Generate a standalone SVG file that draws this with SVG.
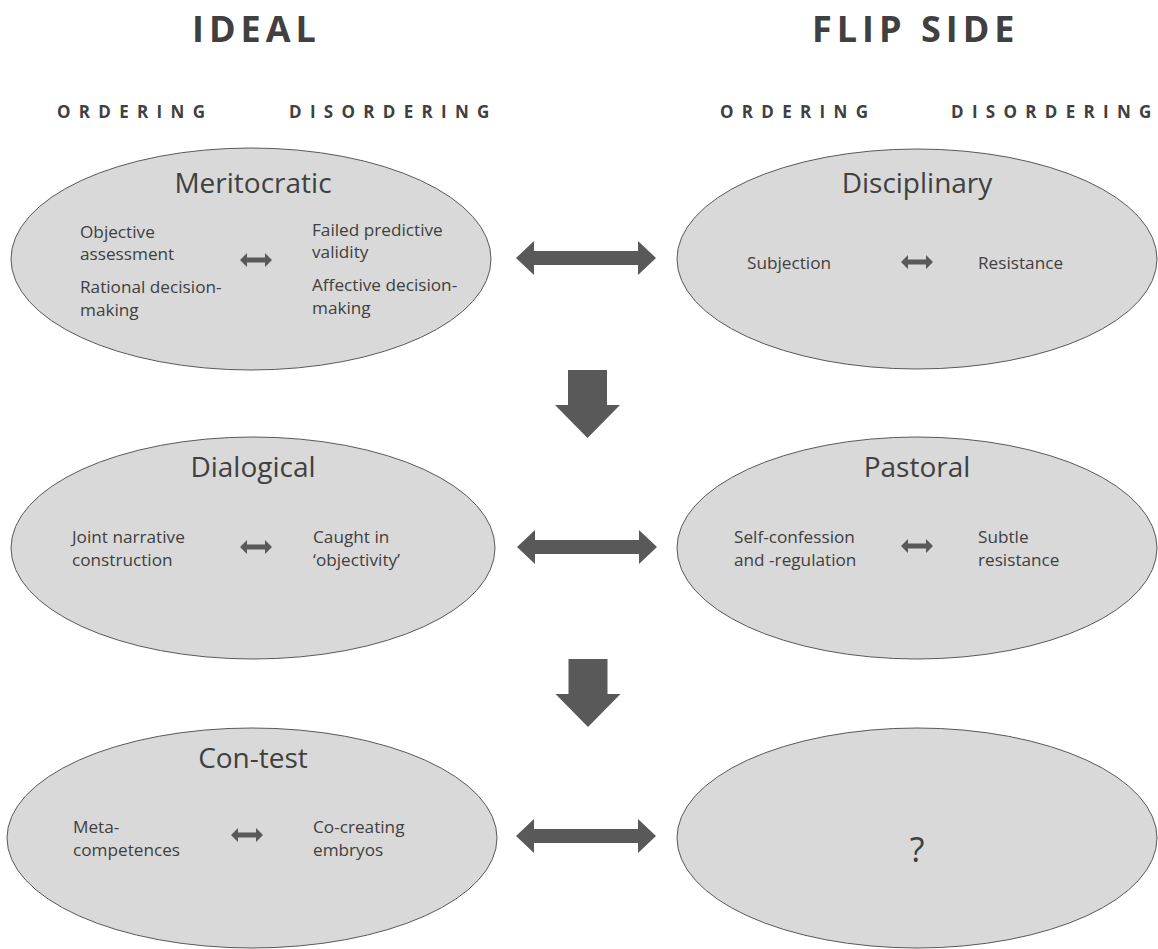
<svg xmlns="http://www.w3.org/2000/svg" width="1158" height="949" viewBox="0 0 1158 949">
<style>
.ell{fill:#d9d9d9;stroke:#595959;stroke-width:1}
.hd{font-family:"Open Sans",sans-serif;font-weight:bold;fill:#404040}
.big{font-size:36px;letter-spacing:5px}
.sub{font-size:17px;letter-spacing:8.3px}
.ttl{font-family:"Open Sans",sans-serif;font-size:28px;fill:#404040;text-anchor:middle}
.tx{font-family:"Open Sans",sans-serif;font-size:17.2px;fill:#404040}
.arr{fill:#595959}
</style>
<defs>
<polygon id="bigH" points="-70,0 -52,-17 -52,-7 52,-7 52,-17 70,0 52,17 52,7 -52,7 -52,17"/>
<polygon id="smH" points="-16,0 -9,-7 -9,-2.5 9,-2.5 9,-7 16,0 9,7 9,2.5 -9,2.5 -9,7"/>
<polygon id="down" points="-19.5,0 19.5,0 19.5,35 32.5,35 0,68 -32.5,35 -19.5,35"/>
</defs>
<g id="headings" class="hd">
<text class="big" x="192" y="42">IDEAL</text>
<text class="big" x="812" y="42">FLIP SIDE</text>
<text class="sub" x="57" y="118">ORDERING</text>
<text class="sub" x="289" y="118">DISORDERING</text>
<text class="sub" x="720" y="118">ORDERING</text>
<text class="sub" x="951" y="118">DISORDERING</text>
</g>
<g id="meritocratic">
<ellipse class="ell" cx="251" cy="259" rx="240" ry="111"/>
<text class="ttl" x="253" y="193">Meritocratic</text>
<text class="tx" x="80" y="238">Objective</text>
<text class="tx" x="80" y="260">assessment</text>
<text class="tx" x="80" y="293">Rational decision-</text>
<text class="tx" x="80" y="316">making</text>
<text class="tx" x="312" y="236">Failed predictive</text>
<text class="tx" x="312" y="258">validity</text>
<text class="tx" x="312" y="291">Affective decision-</text>
<text class="tx" x="312" y="314">making</text>
<use href="#smH" class="arr" x="256" y="260"/>
</g>
<g id="disciplinary">
<ellipse class="ell" cx="917" cy="259" rx="240" ry="110"/>
<text class="ttl" x="917" y="193">Disciplinary</text>
<text class="tx" x="747" y="269">Subjection</text>
<text class="tx" x="978" y="269">Resistance</text>
<use href="#smH" class="arr" x="917" y="262"/>
</g>
<g id="dialogical">
<ellipse class="ell" cx="253" cy="548" rx="242" ry="111"/>
<text class="ttl" x="253" y="477">Dialogical</text>
<text class="tx" x="72" y="543">Joint narrative</text>
<text class="tx" x="72" y="566">construction</text>
<text class="tx" x="313" y="543">Caught in</text>
<text class="tx" x="313" y="566">‘objectivity’</text>
<use href="#smH" class="arr" x="256" y="547"/>
</g>
<g id="pastoral">
<ellipse class="ell" cx="917" cy="548" rx="240" ry="111"/>
<text class="ttl" x="917" y="477">Pastoral</text>
<text class="tx" x="734" y="543">Self-confession</text>
<text class="tx" x="734" y="566">and -regulation</text>
<text class="tx" x="978" y="543">Subtle</text>
<text class="tx" x="978" y="566">resistance</text>
<use href="#smH" class="arr" x="917" y="546"/>
</g>
<g id="contest">
<ellipse class="ell" cx="252" cy="838" rx="245" ry="110"/>
<text class="ttl" x="253" y="768">Con-test</text>
<text class="tx" x="73" y="833">Meta-</text>
<text class="tx" x="73" y="856">competences</text>
<text class="tx" x="313" y="833">Co-creating</text>
<text class="tx" x="313" y="856">embryos</text>
<use href="#smH" class="arr" x="247" y="835"/>
</g>
<g id="unknown">
<ellipse class="ell" cx="917" cy="838" rx="240" ry="110"/>
<text class="ttl" x="917" y="862" style="font-size:34px">?</text>
</g>
<g id="connectors" class="arr">
<use href="#bigH" x="586" y="258"/>
<use href="#bigH" x="587" y="547"/>
<use href="#bigH" x="586" y="836"/>
<use href="#down" x="587.5" y="370"/>
<use href="#down" x="588" y="659"/>
</g>
</svg>
